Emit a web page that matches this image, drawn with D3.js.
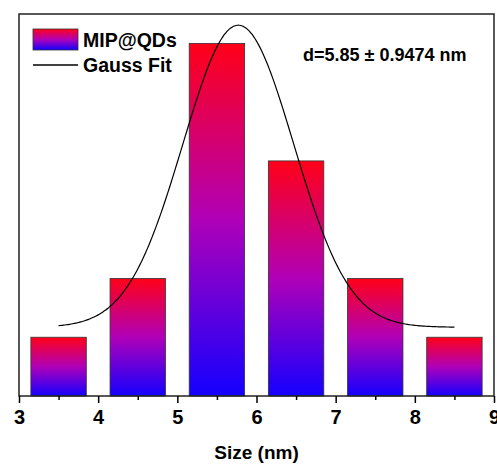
<!DOCTYPE html>
<html>
<head>
<meta charset="utf-8">
<script src="https://cdn.jsdelivr.net/npm/d3@7"></script>
<style>
  body { margin: 0; background: #fff; }
  text { font-family: "Liberation Sans", Arial, sans-serif; font-weight: bold; fill: #000; }
</style>
</head>
<body>
<div class="viz"></div>
<script>
// histogram bins (center, count)
const binCenters = [3.5, 4.5, 5.5, 6.5, 7.5, 8.5];
const counts = [1, 2, 6, 4, 2, 1];
const binWidth = 0.7;

// gauss fit parameters
const fitY0 = 1.17;
const fitA = 5.14;
const fitXc = 5.77;
const fitSigma = 0.70;
const fitRange = [3.5, 8.5];

const xTicks = [3, 4, 5, 6, 7, 8, 9];
const annotation = "d=5.85 \u00b1 0.9474 nm";

const W = 497, H = 467;
const margin = { top: 14, right: 3, bottom: 71, left: 19 };
const width = W - margin.left - margin.right;
const height = H - margin.top - margin.bottom;

const svg = d3.select('.viz')
    .append('svg')
    .attr('width', W)
    .attr('height', H);

const defs = svg.append('defs');
const grad = defs.append('linearGradient')
    .attr('id', 'barGrad')
    .attr('x1', 0).attr('y1', 0)
    .attr('x2', 0).attr('y2', 1);
grad.append('stop').attr('offset', '0%').attr('stop-color', '#ff0018');
grad.append('stop').attr('offset', '50%').attr('stop-color', '#b000b8');
grad.append('stop').attr('offset', '100%').attr('stop-color', '#1400ff');

const g = svg.append('g')
    .attr('transform', `translate(${margin.left},${margin.top})`);

const x = d3.scaleLinear().domain([3, 9]).range([0, width]);
const y = d3.scaleLinear().domain([0, 6.5]).range([height, 0]);

// bars
g.selectAll('rect.bar')
    .data(binCenters)
    .enter()
    .append('rect')
    .attr('class', 'bar')
    .attr('x', d => x(d - binWidth / 2))
    .attr('width', d => x(d + binWidth / 2) - x(d - binWidth / 2))
    .attr('y', (d, i) => y(counts[i]))
    .attr('height', (d, i) => y(0) - y(counts[i]))
    .style('fill', 'url(#barGrad)')
    .style('stroke', '#333')
    .style('stroke-width', 0.8);

// gauss fit curve
const gauss = v => fitY0 + fitA * Math.exp(-((v - fitXc) ** 2) / (2 * fitSigma * fitSigma));
const pts = d3.range(fitRange[0], fitRange[1] + 0.001, 0.02);
g.append('path')
    .datum(pts)
    .attr('d', d3.line().x(d => x(d)).y(d => y(gauss(d))).curve(d3.curveBasis))
    .style('fill', 'none')
    .style('stroke', '#000')
    .style('stroke-width', 1.2);

// frame
g.append('rect')
    .attr('width', width)
    .attr('height', height)
    .style('fill', 'none')
    .style('stroke', '#222')
    .style('stroke-width', 1.5);

// x axis
const xAxis = g.append('g')
    .attr('transform', `translate(0,${height})`)
    .call(d3.axisBottom(x).tickValues(xTicks).tickFormat(d3.format('d')).tickSize(7).tickPadding(7));
xAxis.select('.domain').remove();
xAxis.selectAll('line').style('stroke', '#000').style('stroke-width', 1.5);
xAxis.selectAll('text').style('font-size', '20px').style('font-weight', 'bold');

// minor ticks
g.append('g')
    .attr('transform', `translate(0,${height})`)
    .call(d3.axisBottom(x).tickValues(d3.range(3.5, 9, 1)).tickFormat('').tickSize(4))
    .call(a => a.select('.domain').remove())
    .selectAll('line').style('stroke', '#000').style('stroke-width', 1.5);

// axis title
svg.append('text')
    .attr('x', margin.left + width / 2)
    .attr('y', 459)
    .attr('text-anchor', 'middle')
    .style('font-size', '19px')
    .text('Size (nm)');

// legend
const leg = svg.append('g');
leg.append('rect')
    .attr('x', 33).attr('y', 29)
    .attr('width', 45).attr('height', 21)
    .style('fill', 'url(#barGrad)')
    .style('stroke', '#333')
    .style('stroke-width', 0.8);
leg.append('text')
    .attr('x', 83).attr('y', 47)
    .style('font-size', '19.5px')
    .text('MIP@QDs');
leg.append('line')
    .attr('x1', 33).attr('x2', 78)
    .attr('y1', 65).attr('y2', 65)
    .style('stroke', '#000')
    .style('stroke-width', 1.3);
leg.append('text')
    .attr('x', 83).attr('y', 72)
    .style('font-size', '19.5px')
    .text('Gauss Fit');

// annotation
svg.append('text')
    .attr('x', 303).attr('y', 61)
    .style('font-size', '18px')
    .text(annotation);
</script>
</body>
</html>
